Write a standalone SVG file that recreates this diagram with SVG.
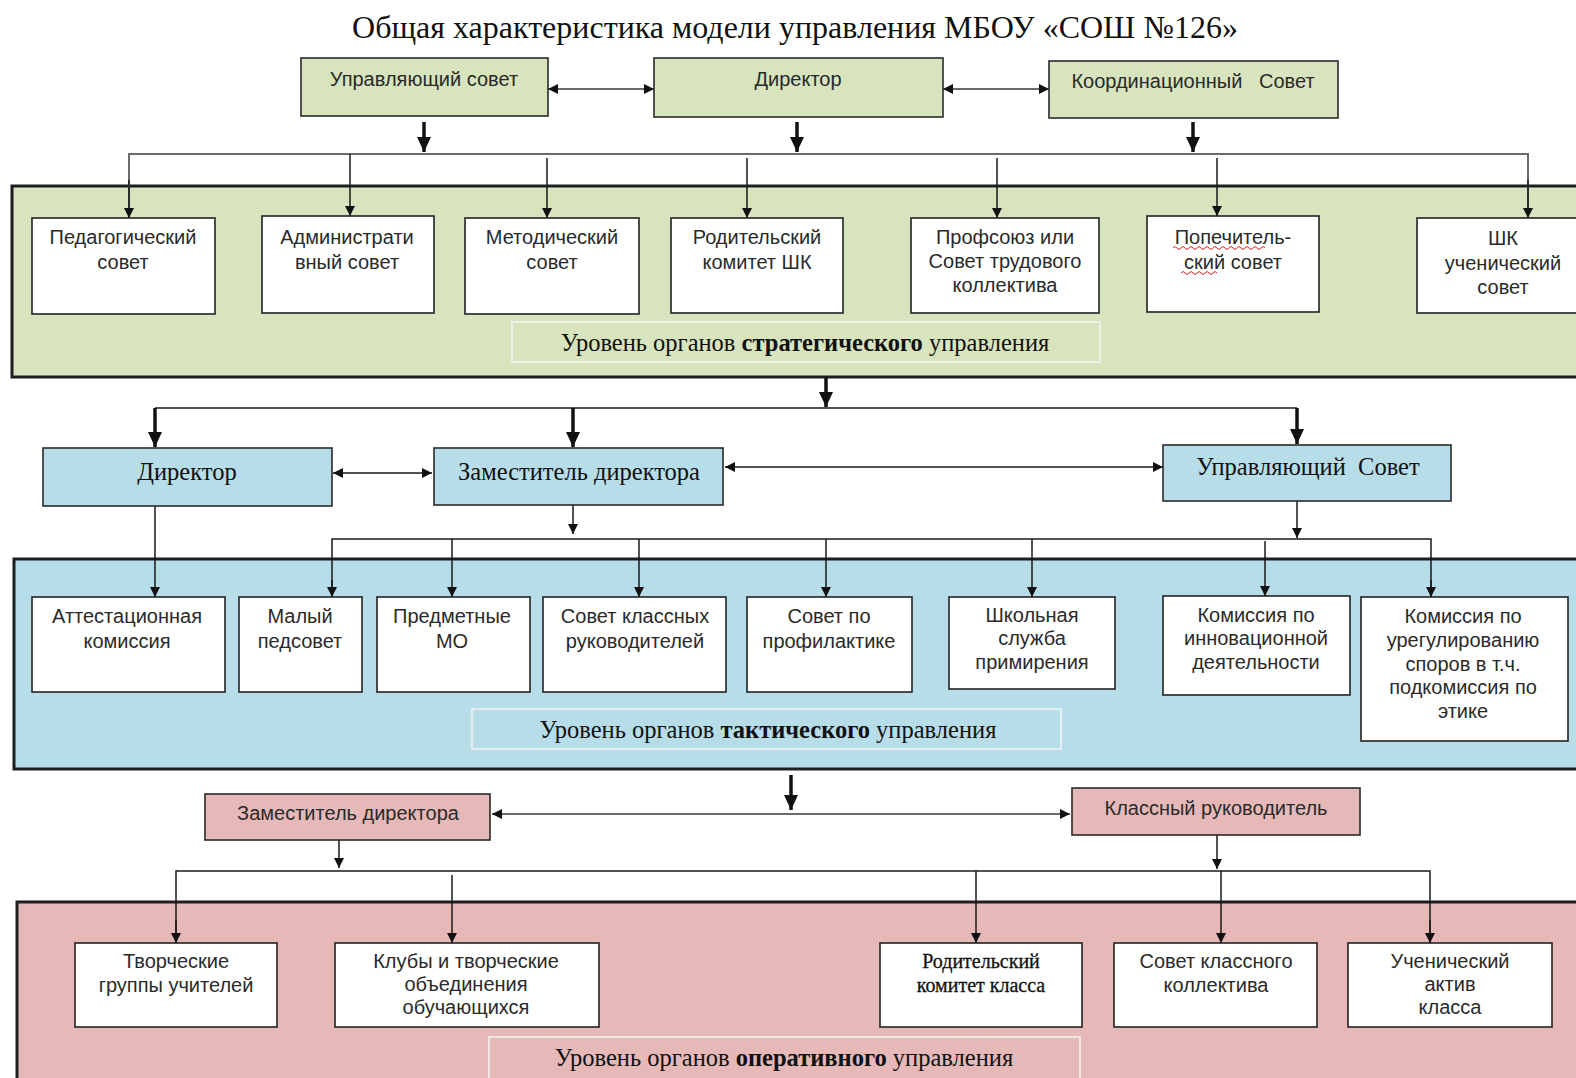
<svg xmlns="http://www.w3.org/2000/svg" width="1576" height="1078" viewBox="0 0 1576 1078">
<style>
.bg{fill:#ffffff}
.band{stroke:#1e1e1e;stroke-width:3}
.g{fill:#d7e4bd}
.b{fill:#b7dde8}
.p{fill:#e6b9b8}
.head{stroke:#2a2a2a;stroke-width:1.6}
.box{fill:#ffffff;stroke:#222;stroke-width:1.6}
.lab{stroke:#f4f4f4;stroke-width:1.5}
.t{font-family:"Liberation Sans",Arial,sans-serif;font-size:20px;fill:#2a2a2a;text-anchor:middle}
.s{font-family:"Liberation Serif","Times New Roman",serif;fill:#111;text-anchor:middle}
.lt{font-size:24.5px}
.ln{fill:none;stroke:#1a1a1a;stroke-width:1.5}
.gl{fill:none;stroke:#6a6a6a;stroke-width:2}
.tk{fill:none;stroke:#111;stroke-width:3.5}
</style>
<defs>
<marker id="a" markerUnits="userSpaceOnUse" markerWidth="12" markerHeight="12" refX="10" refY="6" orient="auto">
<path d="M0,1 L10,6 L0,11 Z" fill="#111"/>
</marker>
<marker id="as" markerUnits="userSpaceOnUse" markerWidth="12" markerHeight="12" refX="10" refY="6" orient="auto-start-reverse">
<path d="M0,1 L10,6 L0,11 Z" fill="#111"/>
</marker>
<marker id="ak" markerUnits="userSpaceOnUse" markerWidth="18" markerHeight="18" refX="15" refY="9" orient="auto">
<path d="M0,2 L15,9 L0,16 Z" fill="#111"/>
</marker>
</defs>
<rect class="bg" x="0" y="0" width="1576" height="1078"/>

<text class="s" x="795" y="38" font-size="32">Общая характеристика модели управления МБОУ «СОШ №126»</text>

<!-- bands -->
<g id="band-strategic">
<rect class="band g" x="12" y="186" width="1570" height="191"/>
<rect class="lab g" x="512" y="322" width="588" height="40"/>
<text class="s lt" x="805" y="351">Уровень органов <tspan font-weight="bold">стратегического</tspan> управления</text>
</g>
<g id="band-tactical">
<rect class="band b" x="14" y="559" width="1570" height="210"/>
<rect class="lab b" x="472" y="709" width="589" height="40"/>
<text class="s lt" x="768" y="738">Уровень органов <tspan font-weight="bold">тактического</tspan> управления</text>
</g>
<g id="band-operative">
<rect class="band p" x="17" y="902" width="1570" height="190"/>
<rect class="lab p" x="489" y="1037" width="591" height="50"/>
<text class="s lt" x="784" y="1066">Уровень органов <tspan font-weight="bold">оперативного</tspan> управления</text>
</g>

<!-- connectors -->
<g id="connectors">
<path class="gl" d="M548,89 H654" marker-start="url(#as)" marker-end="url(#as)"/>
<path class="gl" d="M943,89 H1049" marker-start="url(#as)" marker-end="url(#as)"/>
<path class="tk" d="M424,122 V152" marker-end="url(#ak)"/>
<path class="tk" d="M797,122 V152" marker-end="url(#ak)"/>
<path class="tk" d="M1193,122 V152" marker-end="url(#ak)"/>
<path class="gl" d="M129,218 V154 H1528 V218"/>
<path class="ln" d="M129,180 V218" marker-end="url(#a)"/>
<path class="ln" d="M350,154 V216" marker-end="url(#a)"/>
<path class="ln" d="M547,158 V218" marker-end="url(#a)"/>
<path class="ln" d="M747,158 V218" marker-end="url(#a)"/>
<path class="ln" d="M997,158 V218" marker-end="url(#a)"/>
<path class="ln" d="M1217,158 V216" marker-end="url(#a)"/>
<path class="ln" d="M1528,180 V218" marker-end="url(#a)"/>

<path class="tk" d="M826,377 V407" marker-end="url(#ak)"/>
<path class="ln" d="M155,408 H1297"/>
<path class="tk" d="M155,408 V447" marker-end="url(#ak)"/>
<path class="tk" d="M573,408 V447" marker-end="url(#ak)"/>
<path class="tk" d="M1297,408 V444" marker-end="url(#ak)"/>
<path class="ln" d="M333,473 H432" marker-start="url(#as)" marker-end="url(#as)"/>
<path class="ln" d="M725,467 H1163" marker-start="url(#as)" marker-end="url(#as)"/>
<path class="ln" d="M573,505 V534" marker-end="url(#a)"/>
<path class="ln" d="M1297,501 V538" marker-end="url(#a)"/>
<path class="ln" d="M155,506 V597" marker-end="url(#a)"/>
<path class="ln" d="M332,597 V539 H1431 V597" />
<path class="ln" d="M332,580 V597" marker-end="url(#a)"/>
<path class="ln" d="M1431,580 V597" marker-end="url(#a)"/>
<path class="ln" d="M452,539 V597" marker-end="url(#a)"/>
<path class="ln" d="M639,539 V597" marker-end="url(#a)"/>
<path class="ln" d="M826,539 V597" marker-end="url(#a)"/>
<path class="ln" d="M1032,539 V597" marker-end="url(#a)"/>
<path class="ln" d="M1265,541 V596" marker-end="url(#a)"/>

<path class="tk" d="M791,775 V810" marker-end="url(#ak)"/>
<path class="gl" d="M492,814 H1070" marker-start="url(#as)" marker-end="url(#as)"/>
<path class="ln" d="M339,840 V868" marker-end="url(#a)"/>
<path class="ln" d="M1217,835 V869" marker-end="url(#a)"/>
<path class="ln" d="M176,943 V871 H1430 V943"/>
<path class="ln" d="M176,920 V943" marker-end="url(#a)"/>
<path class="ln" d="M1430,920 V943" marker-end="url(#a)"/>
<path class="ln" d="M452,875 V943" marker-end="url(#a)"/>
<path class="ln" d="M976,871 V943" marker-end="url(#a)"/>
<path class="ln" d="M1221,871 V943" marker-end="url(#a)"/>
</g>

<!-- top row -->
<g id="top-us"><rect class="head g" x="301" y="58" width="247" height="58"/><text class="t" x="424" y="86">Управляющий совет</text></g>
<g id="top-dir"><rect class="head g" x="654" y="58" width="289" height="59"/><text class="t" x="798" y="86">Директор</text></g>
<g id="top-ks"><rect class="head g" x="1049" y="61" width="289" height="57"/><text class="t" x="1193" y="88" xml:space="preserve">Координационный   Совет</text></g>

<!-- strategic boxes -->
<g id="s1"><rect class="box" x="32" y="218" width="183" height="96"/><text class="t" x="123" y="244">Педагогический<tspan x="123" y="269">совет</tspan></text></g>
<g id="s2"><rect class="box" x="262" y="216" width="172" height="97"/><text class="t" x="347" y="244">Администрати<tspan x="347" y="269">вный совет</tspan></text></g>
<g id="s3"><rect class="box" x="465" y="218" width="174" height="96"/><text class="t" x="552" y="244">Методический<tspan x="552" y="269">совет</tspan></text></g>
<g id="s4"><rect class="box" x="671" y="218" width="172" height="95"/><text class="t" x="757" y="244">Родительский<tspan x="757" y="269">комитет ШК</tspan></text></g>
<g id="s5"><rect class="box" x="911" y="218" width="188" height="95"/><text class="t" x="1005" y="244">Профсоюз или<tspan x="1005" y="268">Совет трудового</tspan><tspan x="1005" y="292">коллектива</tspan></text></g>
<g id="s6"><rect class="box" x="1147" y="216" width="172" height="96"/><text class="t" x="1233" y="244">Попечитель-<tspan x="1233" y="269">ский совет</tspan></text>
<path d="M1173,248 q2,-3 4,0 t4,0 t4,0 t4,0 t4,0 t4,0 t4,0 t4,0 t4,0 t4,0 t4,0 t4,0 t4,0 t4,0 t4,0 t4,0 t4,0 t4,0 t4,0 t4,0 t4,0 t4,0 t4,0" fill="none" stroke="#e02020" stroke-width="1"/>
<path d="M1181,273 q2,-3 4,0 t4,0 t4,0 t4,0 t4,0 t4,0 t4,0 t4,0 t4,0" fill="none" stroke="#e02020" stroke-width="1"/></g>
<g id="s7"><rect class="box" x="1417" y="218" width="175" height="95"/><text class="t" x="1503" y="245">ШК<tspan x="1503" y="270">ученический</tspan><tspan x="1503" y="294">совет</tspan></text></g>

<!-- tactical heads -->
<g id="t-dir"><rect class="head b" x="43" y="448" width="289" height="58"/><text class="s lt" x="187" y="480">Директор</text></g>
<g id="t-zam"><rect class="head b" x="434" y="448" width="289" height="57"/><text class="s lt" x="579" y="480">Заместитель директора</text></g>
<g id="t-us"><rect class="head b" x="1163" y="445" width="288" height="56"/><text class="s lt" x="1308" y="475" xml:space="preserve">Управляющий  Совет</text></g>

<!-- tactical boxes -->
<g id="b1"><rect class="box" x="32" y="597" width="193" height="95"/><text class="t" x="127" y="623">Аттестационная<tspan x="127" y="648">комиссия</tspan></text></g>
<g id="b2"><rect class="box" x="239" y="597" width="123" height="95"/><text class="t" x="300" y="623">Малый<tspan x="300" y="648">педсовет</tspan></text></g>
<g id="b3"><rect class="box" x="377" y="597" width="153" height="95"/><text class="t" x="452" y="623">Предметные<tspan x="452" y="648">МО</tspan></text></g>
<g id="b4"><rect class="box" x="543" y="597" width="183" height="95"/><text class="t" x="635" y="623">Совет классных<tspan x="635" y="648">руководителей</tspan></text></g>
<g id="b5"><rect class="box" x="747" y="597" width="165" height="95"/><text class="t" x="829" y="623">Совет по<tspan x="829" y="648">профилактике</tspan></text></g>
<g id="b6"><rect class="box" x="949" y="597" width="166" height="92"/><text class="t" x="1032" y="622">Школьная<tspan x="1032" y="645">служба</tspan><tspan x="1032" y="669">примирения</tspan></text></g>
<g id="b7"><rect class="box" x="1163" y="596" width="187" height="99"/><text class="t" x="1256" y="622">Комиссия по<tspan x="1256" y="645">инновационной</tspan><tspan x="1256" y="669">деятельности</tspan></text></g>
<g id="b8"><rect class="box" x="1361" y="597" width="207" height="144"/><text class="t" x="1463" y="623">Комиссия по<tspan x="1463" y="647">урегулированию</tspan><tspan x="1463" y="671">споров в т.ч.</tspan><tspan x="1463" y="694">подкомиссия по</tspan><tspan x="1463" y="718">этике</tspan></text></g>

<!-- operative heads -->
<g id="o-zam"><rect class="head p" x="205" y="794" width="285" height="46"/><text class="t" x="348" y="820">Заместитель директора</text></g>
<g id="o-kr"><rect class="head p" x="1072" y="788" width="288" height="47"/><text class="t" x="1216" y="815">Классный руководитель</text></g>

<!-- operative boxes -->
<g id="p1"><rect class="box" x="75" y="943" width="202" height="84"/><text class="t" x="176" y="968">Творческие<tspan x="176" y="992">группы учителей</tspan></text></g>
<g id="p2"><rect class="box" x="335" y="943" width="264" height="84"/><text class="t" x="466" y="968">Клубы и творческие<tspan x="466" y="991">объединения</tspan><tspan x="466" y="1014">обучающихся</tspan></text></g>
<g id="p3"><rect class="box" x="880" y="943" width="202" height="84"/><text class="s" x="981" y="968" font-size="20" stroke="#111" stroke-width="0.3">Родительский<tspan x="981" y="992">комитет класса</tspan></text></g>
<g id="p4"><rect class="box" x="1114" y="943" width="203" height="84"/><text class="t" x="1216" y="968">Совет классного<tspan x="1216" y="992">коллектива</tspan></text></g>
<g id="p5"><rect class="box" x="1348" y="943" width="204" height="84"/><text class="t" x="1450" y="968">Ученический<tspan x="1450" y="991">актив</tspan><tspan x="1450" y="1014">класса</tspan></text></g>
</svg>
